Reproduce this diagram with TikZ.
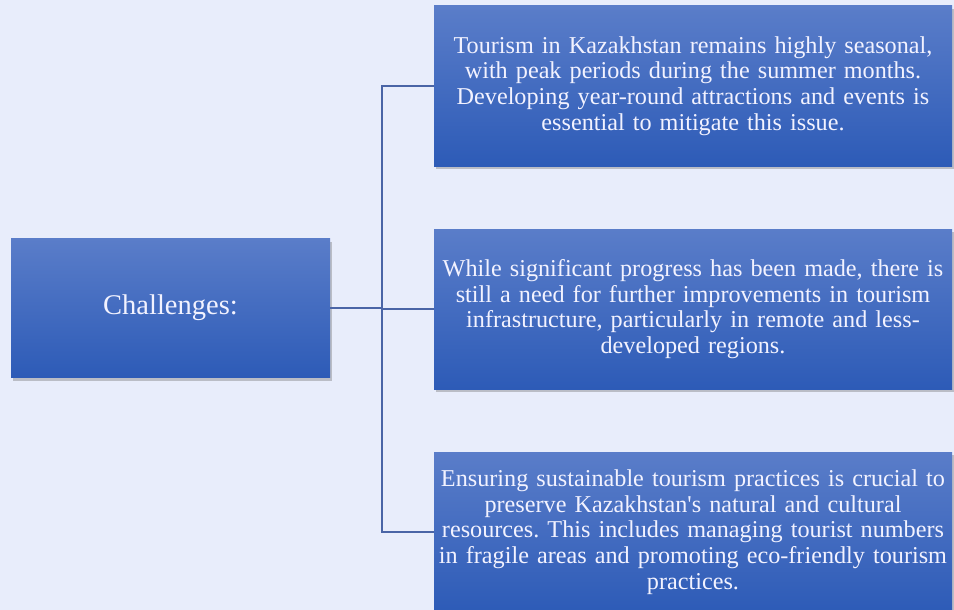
\documentclass[tikz,border=0pt]{standalone}
\usepackage{fontspec}
\setmainfont{Liberation Serif}
\usetikzlibrary{shadows}
\definecolor{bgcol}{HTML}{E8EDFB}
\definecolor{boxtop}{HTML}{5A7DC9}
\definecolor{boxbot}{HTML}{2D5BB7}
\definecolor{linecol}{HTML}{4A65A6}
\frenchspacing

\begin{document}
\begin{tikzpicture}[
  x=1pt, y=-1pt,
  box/.style={rectangle, top color=boxtop, bottom color=boxbot, draw=none,
    text=white!95!blue, align=center, inner sep=1pt,
    font=\fontsize{24.2}{25.8}\selectfont,
    drop shadow={shadow xshift=2pt, shadow yshift=-3pt, opacity=0.35, fill=black!60}},
  challenge/.style={box, minimum width=319pt, minimum height=139pt,
    font=\fontsize{28.5}{32}\selectfont},
  issue/.style={box, minimum width=518pt, minimum height=160pt, text width=516pt},
  link/.style={draw=linecol, line width=1.6pt},
]

% Background
\fill[bgcol] (0,0) rectangle (954,610);
\useasboundingbox (0,0) rectangle (954,610);

% Nodes
\node[challenge] (ch) at (170.5,308) {Challenges:};
\node[issue] (season) at (693,86) {Tourism in Kazakhstan remains highly seasonal,\\
  with peak periods during the summer months.\\
  Developing year-round attractions and events is\\
  essential to mitigate this issue.};
\node[issue] (infra) at (693,309) {While significant progress has been made, there is\\
  still a need for further improvements in tourism\\
  infrastructure, particularly in remote and less-\\
  developed regions.};
\node[issue] (sustain) at (693,532) {Ensuring sustainable tourism practices is crucial to\\
  preserve Kazakhstan\textquotesingle s natural and cultural\\
  resources. This includes managing tourist numbers\\
  in fragile areas and promoting eco-friendly tourism\\
  practices.};
\coordinate (split) at (382,308);

% Connectors
\draw[link] (ch.east) -- (split);
\draw[link] (split) |- (season.west);
\draw[link] (split) |- (infra.west);
\draw[link] (split) |- (sustain.west);

\end{tikzpicture}
\end{document}
